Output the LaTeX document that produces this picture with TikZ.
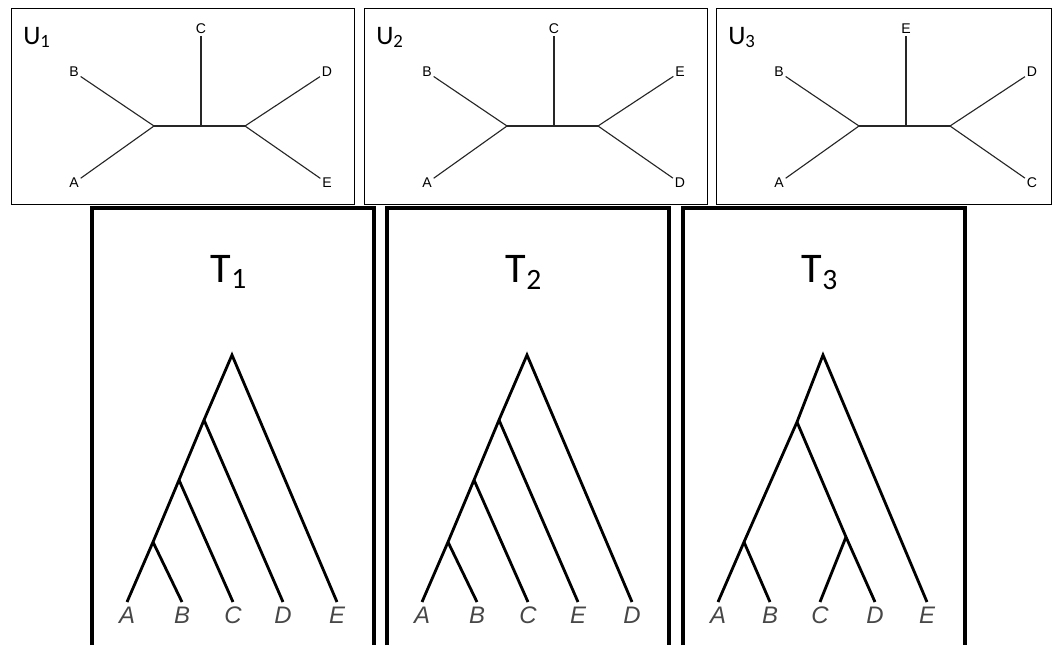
\documentclass[tikz,border=0pt]{standalone}
\usepackage{fontspec}
\setmainfont{Carlito}
\newfontfamily\arialfont{Liberation Sans}
\usetikzlibrary{positioning}

\begin{document}
\begin{tikzpicture}[x=0.025cm, y=-0.025cm,
    ubox/.style={draw=black, line width=0.7pt},
    tbox/.style={draw=black, line width=2.2pt},
    uedge/.style={draw=black!85, line width=0.8pt},
    tedge/.style={draw=black, line width=2pt},
    uleaf/.style={inner sep=1.2pt, font=\arialfont\fontsize{10}{12}\selectfont},
    tleaf/.style={anchor=north, inner sep=3.5pt, text=black!72,
                  font=\arialfont\itshape\fontsize{17}{20}\selectfont},
    utitle/.style={anchor=base west, inner sep=0pt, font=\fontsize{19}{22}\selectfont},
    ttitle/.style={anchor=base, inner sep=0pt, font=\fontsize{30}{36}\selectfont},
  ]
  \useasboundingbox (0,0) rectangle (1053,645);

  % U1: unrooted, C in the middle, D and E to the right.
  \draw[ubox] (11,8) rectangle (354,204);
  \node[utitle] (u1) at (23,44) {U\textsubscript{1}};
  \coordinate (u1l) at (154,126);
  \coordinate (u1m) at (201,126);
  \coordinate (u1r) at (245,126);
  \node[uleaf] (u1a) at (74,183) {A};
  \node[uleaf] (u1b) at (74,72) {B};
  \node[uleaf] (u1c) at (201,29) {C};
  \node[uleaf] (u1d) at (327,72) {D};
  \node[uleaf] (u1e) at (327,183) {E};
  \draw[uedge] (u1a) -- (u1l) -- (u1b);
  \draw[uedge] (u1l) -- (u1r);
  \draw[uedge] (u1m) -- (u1c);
  \draw[uedge] (u1d) -- (u1r) -- (u1e);

  % U2: same shape, E and D swapped.
  \begin{scope}[shift={(353,0)}]
    \draw[ubox] (11,8) rectangle (354,204);
    \node[utitle] (u2) at (23,44) {U\textsubscript{2}};
    \coordinate (u2l) at (154,126);
    \coordinate (u2m) at (201,126);
    \coordinate (u2r) at (245,126);
    \node[uleaf] (u2a) at (74,183) {A};
    \node[uleaf] (u2b) at (74,72) {B};
    \node[uleaf] (u2c) at (201,29) {C};
    \node[uleaf] (u2e) at (327,72) {E};
    \node[uleaf] (u2d) at (327,183) {D};
    \draw[uedge] (u2a) -- (u2l) -- (u2b);
    \draw[uedge] (u2l) -- (u2r);
    \draw[uedge] (u2m) -- (u2c);
    \draw[uedge] (u2e) -- (u2r) -- (u2d);
  \end{scope}

  % U3: E in the middle, D and C to the right.
  \begin{scope}[shift={(705,0)}]
    \draw[ubox] (11,8) rectangle (346,204);
    \node[utitle] (u3) at (23,44) {U\textsubscript{3}};
    \coordinate (u3l) at (154,126);
    \coordinate (u3m) at (201,126);
    \coordinate (u3r) at (245,126);
    \node[uleaf] (u3a) at (74,183) {A};
    \node[uleaf] (u3b) at (74,72) {B};
    \node[uleaf] (u3e) at (201,29) {E};
    \node[uleaf] (u3d) at (327,72) {D};
    \node[uleaf] (u3c) at (327,183) {C};
    \draw[uedge] (u3a) -- (u3l) -- (u3b);
    \draw[uedge] (u3l) -- (u3r);
    \draw[uedge] (u3m) -- (u3e);
    \draw[uedge] (u3d) -- (u3r) -- (u3c);
  \end{scope}

  % T1: caterpillar ((((A,B),C),D),E), box open at the bottom.
  \draw[tbox] (92,645) -- (92,208) -- (374,208) -- (374,645);
  \node[ttitle] (t1) at (229,282) {T\textsubscript{1}};
  \coordinate (t1r) at (232,355);
  \coordinate (t1n3) at (204,420);
  \coordinate (t1n2) at (179,480);
  \coordinate (t1n1) at (153,542);
  \node[tleaf] (t1a) at (127,602) {A};
  \node[tleaf] (t1b) at (182,602) {B};
  \node[tleaf] (t1c) at (233,602) {C};
  \node[tleaf] (t1d) at (283,602) {D};
  \node[tleaf] (t1e) at (337,602) {E};
  \draw[tedge] (t1a.north) -- (t1n1) -- (t1n2) -- (t1n3) -- (t1r) -- (t1e.north);
  \draw[tedge] (t1n1) -- (t1b.north);
  \draw[tedge] (t1n2) -- (t1c.north);
  \draw[tedge] (t1n3) -- (t1d.north);

  % T2: as T1 with E and D swapped.
  \begin{scope}[shift={(295,0)}]
    \draw[tbox] (92,645) -- (92,208) -- (374,208) -- (374,645);
    \node[ttitle] (t2) at (229,282) {T\textsubscript{2}};
    \coordinate (t2r) at (232,355);
    \coordinate (t2n3) at (204,420);
    \coordinate (t2n2) at (179,480);
    \coordinate (t2n1) at (153,542);
    \node[tleaf] (t2a) at (127,602) {A};
    \node[tleaf] (t2b) at (182,602) {B};
    \node[tleaf] (t2c) at (233,602) {C};
    \node[tleaf] (t2e) at (283,602) {E};
    \node[tleaf] (t2d) at (337,602) {D};
    \draw[tedge] (t2a.north) -- (t2n1) -- (t2n2) -- (t2n3) -- (t2r) -- (t2d.north);
    \draw[tedge] (t2n1) -- (t2b.north);
    \draw[tedge] (t2n2) -- (t2c.north);
    \draw[tedge] (t2n3) -- (t2e.north);
  \end{scope}

  % T3: balanced (((A,B),(C,D)),E).
  \begin{scope}[shift={(591,0)}]
    \draw[tbox] (92,645) -- (92,208) -- (374,208) -- (374,645);
    \node[ttitle] (t3) at (229,282) {T\textsubscript{3}};
    \coordinate (t3r) at (232,355);
    \coordinate (t3n2) at (206,422);
    \coordinate (t3n1) at (153,542);
    \coordinate (t3cd) at (255,537);
    \node[tleaf] (t3a) at (127,602) {A};
    \node[tleaf] (t3b) at (179,602) {B};
    \node[tleaf] (t3c) at (229,602) {C};
    \node[tleaf] (t3d) at (284,602) {D};
    \node[tleaf] (t3e) at (336,602) {E};
    \draw[tedge] (t3a.north) -- (t3n1) -- (t3n2) -- (t3r) -- (t3e.north);
    \draw[tedge] (t3n1) -- (t3b.north);
    \draw[tedge] (t3n2) -- (t3cd) -- (t3d.north);
    \draw[tedge] (t3cd) -- (t3c.north);
  \end{scope}
\end{tikzpicture}
\end{document}
